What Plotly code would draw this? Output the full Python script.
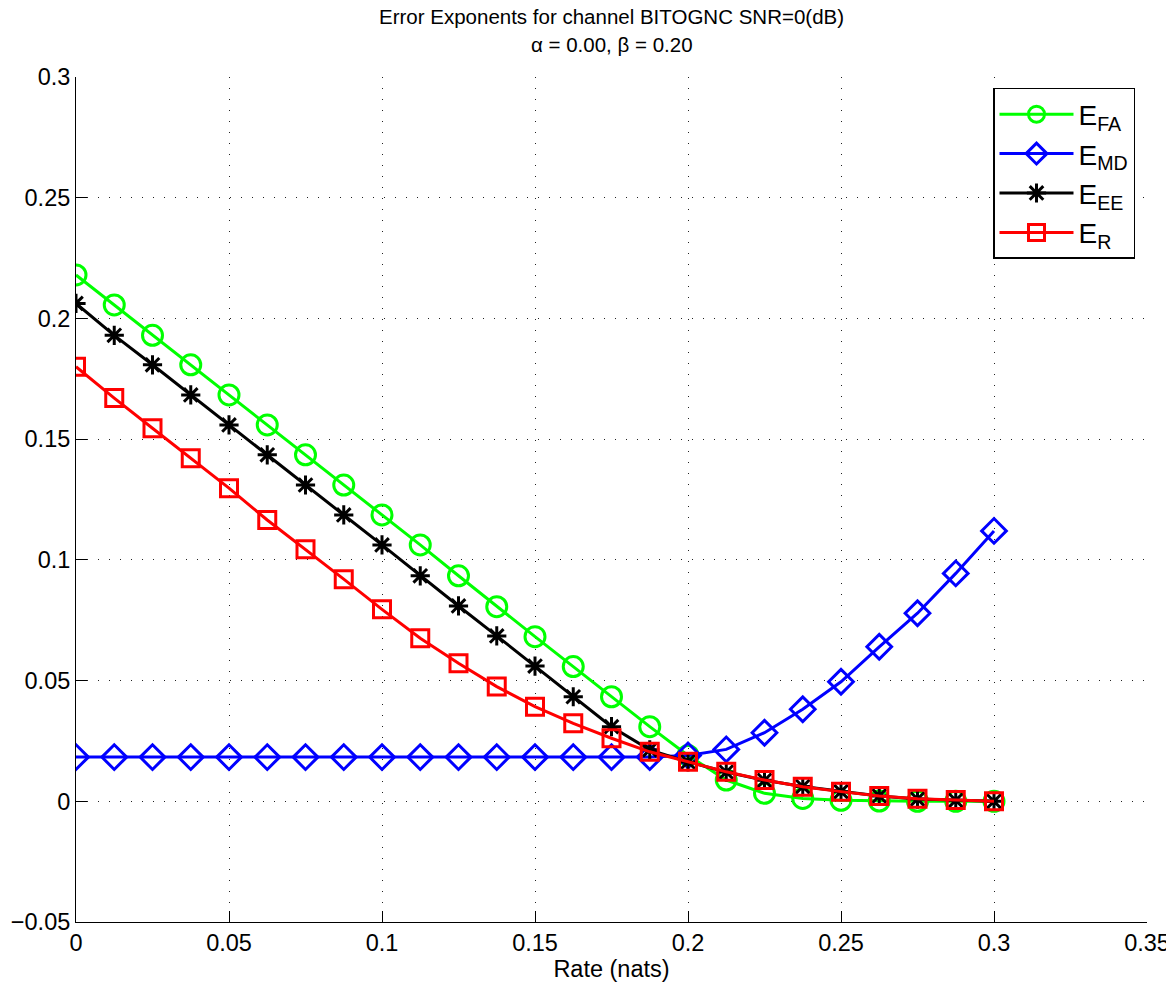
import plotly.graph_objects as go

rate = [0, 0.0125, 0.025, 0.0375, 0.05, 0.0625, 0.075, 0.0875, 0.1, 0.1125,
        0.125, 0.1375, 0.15, 0.1625, 0.175, 0.1875, 0.2, 0.2125, 0.225, 0.2375,
        0.25, 0.2625, 0.275, 0.2875, 0.3]

e_fa = [0.218, 0.2056, 0.193, 0.1808, 0.1683, 0.1559, 0.1435, 0.131, 0.1186, 0.1062,
        0.0934, 0.0806, 0.0682, 0.0558, 0.0433, 0.0309, 0.019, 0.0088, 0.0033, 0.0012,
        0.0004, 0.0001, 0.0, 0.0, 0.0]

e_md = [0.0183, 0.0183, 0.0183, 0.0183, 0.0183, 0.0183, 0.0183, 0.0183, 0.0183, 0.0183,
        0.0183, 0.0183, 0.0183, 0.0183, 0.0183, 0.0183, 0.019, 0.0215, 0.0284, 0.0381,
        0.0495, 0.064, 0.0779, 0.0944, 0.112]

e_ee = [0.2062, 0.193, 0.1808, 0.1683, 0.1559, 0.1435, 0.131, 0.1186, 0.1062, 0.0934,
        0.0809, 0.0685, 0.056, 0.0433, 0.0309, 0.0213, 0.0163, 0.0121, 0.0087, 0.0061,
        0.004, 0.0022, 0.0009, 0.0004, 0.0]

e_r = [0.18, 0.167, 0.1545, 0.1421, 0.1297, 0.1165, 0.1044, 0.092, 0.0795, 0.0675,
       0.0572, 0.0475, 0.0392, 0.0323, 0.0261, 0.0205, 0.0164, 0.0122, 0.0088, 0.006,
       0.004, 0.0022, 0.001, 0.0005, 0.0]

title_lines = ["Error Exponents for channel BITOGNC SNR=0(dB)", "α = 0.00, β = 0.20"]

FONT = "Liberation Sans, Arial, Helvetica, sans-serif"

fig = go.Figure()
series = [
    ("E<sub>FA</sub>", e_fa, "#00ff00", "circle-open", 20),
    ("E<sub>MD</sub>", e_md, "#0000ff", "diamond-open", 19),
    ("E<sub>EE</sub>", e_ee, "#000000", "asterisk-open", 16),
    ("E<sub>R</sub>", e_r, "#ff0000", "square-open", 17),
]
for name, ys, col, sym, sz in series:
    fig.add_trace(go.Scatter(
        x=rate, y=ys, name=name, mode="lines+markers",
        line=dict(color=col, width=3),
        marker=dict(symbol=sym, size=sz, color=col, line=dict(color=col, width=3)),
    ))

axis_common = dict(
    showline=True, linecolor="black", linewidth=1, mirror=False,
    ticks="inside", ticklen=11, tickcolor="black", tickwidth=1,
    showgrid=True, gridcolor="#222222", gridwidth=1, griddash="1px,10px",
    zeroline=False, tickfont=dict(family=FONT, size=23.5, color="black"),
)

fig.update_xaxes(range=[0, 0.35], dtick=0.05, tick0=0,
                 title=dict(text="Rate (nats)", font=dict(family=FONT, size=23.5, color="black"), standoff=2),
                 **axis_common)
fig.update_yaxes(range=[-0.05, 0.3], dtick=0.05, tick0=0, **axis_common)

# page body has an 8px margin; compensate so the plot area lands where the reference has it
fig.update_layout(
    width=1166, height=976,
    margin=dict(l=68, r=27, t=69, b=62, autoexpand=False),
    paper_bgcolor="white", plot_bgcolor="white",
    font=dict(family=FONT, size=22, color="black"),
    legend=dict(x=0.9888, y=0.987, xanchor="right", yanchor="top",
                bordercolor="black", borderwidth=1.5, bgcolor="white",
                font=dict(family=FONT, size=28, color="black"),
                itemwidth=74, tracegroupgap=0),
    showlegend=True,
)

fig.add_annotation(text=title_lines[0], x=0.5, xref="paper", y=1.0716, yref="paper",
                   xanchor="center", yanchor="middle", showarrow=False,
                   font=dict(family=FONT, size=20.5, color="black"))
fig.add_annotation(text=title_lines[1], x=0.5, xref="paper", y=1.0390, yref="paper",
                   xanchor="center", yanchor="middle", showarrow=False,
                   font=dict(family=FONT, size=20.5, color="black"))

fig.write_html("out.html")
